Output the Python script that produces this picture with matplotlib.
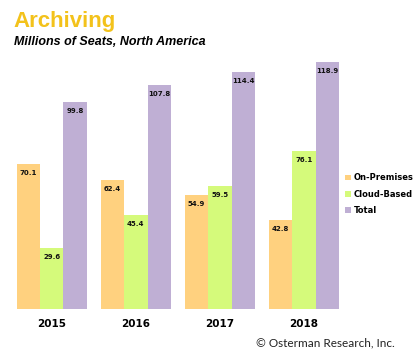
import matplotlib.pyplot as plt
import numpy as np

years = ['2015', '2016', '2017', '2018']
on_premises = [70.1, 62.4, 54.9, 42.8]
cloud_based = [29.6, 45.4, 59.5, 76.1]
total = [99.8, 107.8, 114.4, 118.9]
series_names = ['On-Premises', 'Cloud-Based', 'Total']

colors = ['#FFD17F', '#D5FA7B', '#BFAFD4']

fig = plt.figure(figsize=(4.17, 3.6), dpi=100)
ax = fig.add_axes([0.0235, 51 / 360, 0.806, 249 / 360])

x = np.arange(len(years))
w = 0.278
handles = []
for i, (vals, name) in enumerate(zip([on_premises, cloud_based, total], series_names)):
    bars = ax.bar(x + (i - 1) * w, vals, width=w, color=colors[i], label=name)
    handles.append(bars)
    for b, v in zip(bars, vals):
        ax.annotate(f'{v:.1f}', (b.get_x() + b.get_width() / 2, v),
                    xytext=(0, -9), textcoords='offset pixels',
                    ha='center', va='center', fontsize=5, fontweight='bold',
                    color='#111111')

ax.set_xlim(-0.5, 3.5)
ax.set_ylim(0, 120)
ax.set_xticks(x)
ax.set_xticklabels(years, fontsize=7.5, fontweight='bold')
ax.tick_params(axis='x', length=0, pad=7)
ax.set_yticks([])
for s in ax.spines.values():
    s.set_visible(False)

fig.legend(handles=handles, labels=series_names, loc='center left',
           bbox_to_anchor=(345 / 417, 1 - 194 / 360), frameon=False,
           borderpad=0, borderaxespad=0,
           handlelength=0.7, handleheight=0.7, handletextpad=0.35,
           labelspacing=0.85, prop={'size': 6, 'weight': 'bold'})

fig.text(13 / 417, 1 - 21 / 360, 'Archiving', fontsize=16, fontweight='bold',
         color='#F3C21B', family='Liberation Sans', va='center', ha='left')
fig.text(14 / 417, 1 - 42 / 360, 'Millions of Seats, North America', fontsize=9,
         fontweight='bold', style='italic', family='Liberation Sans',
         va='center', ha='left')
fig.text(395 / 417, 1 - 343 / 360, '\u00a9 Osterman Research, Inc.', fontsize=8.5,
         family='Lato', va='center', ha='right', color='#222222')

fig.savefig('out.png', dpi=100)
